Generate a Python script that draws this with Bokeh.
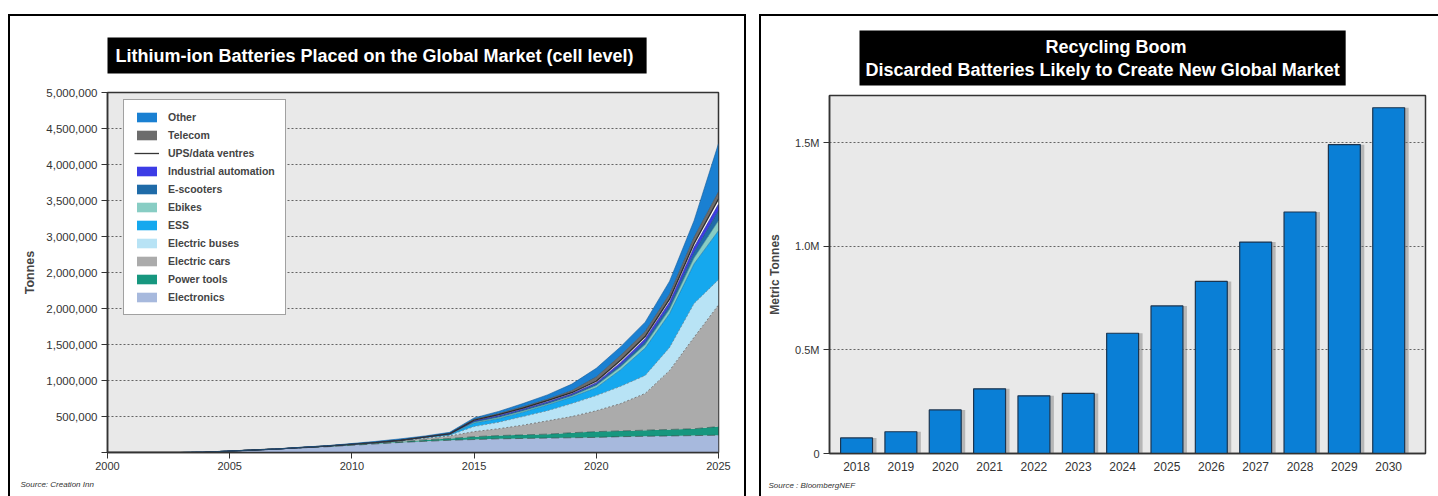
import numpy as np
from bokeh.plotting import figure
from bokeh.layouts import row, column
from bokeh.models import (ColumnDataSource, Legend, LegendItem, Title, Spacer,
                          FixedTicker, Range1d)
from bokeh.transform import dodge
from bokeh.embed import file_html
from bokeh.resources import INLINE

FONT = "Liberation Sans"

# ---------------- Left chart data (thousand tonnes, per segment) ----------------
years = list(range(2000, 2026))
electronics    = [0,0,0,0,5,20,35,50,65,80,100,120,140,155,170,180,190,195,200,205,210,220,225,230,235,240]
power_tools    = [0,0,0,0,0,0,0,0,5,8,10,10,10,20,25,40,45,50,55,70,80,80,85,90,95,120]
electric_cars  = [0,0,0,0,0,0,0,0,0,2,5,10,15,25,35,70,95,135,185,225,290,380,510,820,1270,1690]
electric_buses = [0,0,0,0,0,0,0,0,0,0,0,0,5,5,10,70,90,120,140,180,210,240,250,320,470,350]
ess            = [0,0,0,0,0,0,0,0,0,0,0,0,0,5,5,50,50,60,80,90,110,230,380,470,550,680]
ebikes         = [0,0,0,0,0,0,0,0,0,0,0,0,0,2,5,10,15,15,15,15,30,40,50,60,80,140]
e_scooters     = [0,0,0,0,0,0,0,0,0,0,0,0,0,2,5,10,15,15,15,15,20,30,40,50,80,140]
industrial     = [0,0,0,0,0,0,0,0,0,0,0,0,0,2,5,10,15,15,15,15,20,30,40,50,70,90]
ups_data       = [0,0,0,0,0,0,0,0,0,0,0,0,0,2,2,10,10,10,15,15,20,30,30,40,50,70]
telecom        = [0,0,0,0,0,0,0,0,0,0,0,0,0,2,3,10,15,20,20,30,60,70,70,70,90,100]
other          = [0,0,0,0,0,0,0,0,5,5,10,15,20,10,15,20,30,45,60,90,120,120,130,180,230,670]

series_names = ["Electronics", "Power tools", "Electric cars", "Electric buses", "ESS",
                "Ebikes", "E-scooters", "Industrial automation", "UPS/data ventres",
                "Telecom", "Other"]
series_vals = [electronics, power_tools, electric_cars, electric_buses, ess, ebikes,
               e_scooters, industrial, ups_data, telecom, other]
series_colors = ["#a7b9dd", "#17977f", "#ababab", "#b8e3f5", "#15a8ee", "#88cdc4",
                 "#1f6ba8", "#3c3ce6", "#ffffff", "#6c6c6c", "#1a80d2"]
line_colors = ["#2f3f3a", "#1d4f46", "#666666", "#6a8a98", "#0d6fa8", "#4c9a90",
               "#18487a", "#2a2aa0", "#202020", "#444444", "#145c9a"]
line_dashes = ["8 4", "8 4", "2 2", "2 2", "solid", "solid", "solid", "solid", "solid",
               "solid", "solid"]
line_alphas = [0.6, 0.6, 0.8, 0.8, 0.6, 0.6, 0.6, 0.7, 0.9, 0.6, 0.6]

left_title = "Lithium-ion Batteries  Placed on the Global Market (cell level)"
left_y_ticks = [0, 500000, 1000000, 1500000, 2000000, 2500000, 3000000, 3500000,
                4000000, 4500000, 5000000]
left_y_labels = ["", "500,000", "1,000,000", "1,500,000", "2,000,000", "2,000,000",
                 "3,000,000", "3,500,000", "4,000,000", "4,500,000", "5,000,000"]
left_x_ticks = [2000, 2005, 2010, 2015, 2020, 2025]

# ---------------- Right chart data ----------------
right_title_1 = "Recycling Boom"
right_title_2 = "Discarded Batteries Likely to Create New Global Market"
rec_years = [2018, 2019, 2020, 2021, 2022, 2023, 2024, 2025, 2026, 2027, 2028, 2029, 2030]
rec_tonnes = [75000, 105000, 210000, 312000, 278000, 290000, 580000, 712000, 830000,
              1020000, 1165000, 1490000, 1668000]
right_y_ticks = [0, 500000, 1000000, 1500000]
right_y_labels = ["0", "0.5M", "1.0M", "1.5M"]

BLACK = {"background-color": "black"}

# ================= LEFT FIGURE =================
data = {"year": years}
keys = []
for i, v in enumerate(series_vals):
    k = "s%d" % i
    keys.append(k)
    data[k] = [a * 1000 for a in v]
src = ColumnDataSource(data)

pl = figure(width=734, height=480, output_backend="svg", toolbar_location=None,
            x_range=Range1d(2000, 2025), y_range=Range1d(0, 5000000),
            min_border_left=97, min_border_right=26, min_border_top=76, min_border_bottom=44,
            background_fill_color="#e9e9e9", border_fill_color="white",
            outline_line_color="#333333", outline_line_width=1.5)

areas = pl.varea_stack(keys, x="year", color=series_colors, source=src)
lines = pl.vline_stack(keys, x="year", line_color=line_colors, line_width=1,
                       line_dash=line_dashes, line_alpha=line_alphas, source=src)
lines[8].glyph.line_width = 1.3

pl.xgrid.visible = False
pl.ygrid.grid_line_color = "#555555"
pl.ygrid.grid_line_dash = "2 2"
pl.ygrid.grid_line_alpha = 0.9
pl.ygrid.ticker = FixedTicker(ticks=left_y_ticks[1:])

pl.yaxis.ticker = FixedTicker(ticks=left_y_ticks)
pl.yaxis.major_label_overrides = {t: l for t, l in zip(left_y_ticks, left_y_labels)}
pl.xaxis.ticker = FixedTicker(ticks=left_x_ticks)
pl.xaxis.major_label_overrides = {t: str(t) for t in left_x_ticks}
for ax in (pl.xaxis, pl.yaxis):
    ax.minor_tick_line_color = None
    ax.major_tick_in = 0
    ax.major_tick_out = 6
    ax.axis_line_color = "#333333"
    ax.axis_line_width = 1.5
    ax.major_tick_line_color = "#333333"
    ax.major_label_text_font = FONT
    ax.major_label_text_color = "#333333"
pl.yaxis.major_label_text_font_size = "11.5px"
pl.yaxis.major_label_standoff = 4
pl.xaxis.major_label_text_font_size = "11px"
pl.xaxis.major_label_standoff = 3
pl.yaxis.axis_label = "Tonnes"
pl.yaxis.axis_label_text_font = FONT
pl.yaxis.axis_label_text_font_style = "bold"
pl.yaxis.axis_label_text_font_size = "12.5px"
pl.yaxis.axis_label_standoff = 6

items = []
for i in reversed(range(len(series_names))):
    rends = [areas[i]]
    if series_names[i] == "UPS/data ventres":
        rends = [areas[i], lines[i]]
    items.append(LegendItem(label=series_names[i], renderers=rends))
leg = Legend(items=items, location=(16, 137), orientation="vertical",
             background_fill_color="white", background_fill_alpha=1,
             border_line_color="#444444", border_line_width=1,
             label_text_font=FONT, label_text_font_style="bold",
             label_text_font_size="10.5px", label_height=14, glyph_height=12,
             glyph_width=25, spacing=4, padding=10, label_standoff=9, margin=0)
pl.add_layout(leg, "center")

pl.add_layout(Title(text=left_title, align="left", offset=0, standoff=38, padding=8,
                    background_fill_color="black", text_color="white",
                    text_font=FONT, text_font_style="bold", text_font_size="18px"), "above")
pl.add_layout(Title(text="Source:  Creation Inn", align="left", offset=-87, standoff=11,
                    text_color="#333333", text_font=FONT, text_font_style="italic",
                    text_font_size="8px"), "below")

# ================= RIGHT FIGURE =================
rsrc = ColumnDataSource({"year": rec_years, "tonnes": rec_tonnes})
pr = figure(width=677, height=480, output_backend="svg", toolbar_location=None,
            x_range=Range1d(2017.39, 2030.83), y_range=Range1d(0, 1727000),
            min_border_left=68, min_border_right=13, min_border_top=79, min_border_bottom=43,
            background_fill_color="#e9e9e9", border_fill_color="white",
            outline_line_color="#333333", outline_line_width=1.5)
pr.vbar(x=dodge("year", 0.09), top="tonnes", width=0.72, source=rsrc,
        fill_color="#777777", fill_alpha=0.45, line_alpha=0)
pr.vbar(x="year", top="tonnes", width=0.72, source=rsrc,
        fill_color="#0a7fd6", line_color="#1b3550", line_width=1.2)

pr.xgrid.visible = False
pr.ygrid.grid_line_color = "#555555"
pr.ygrid.grid_line_dash = "2 2"
pr.ygrid.grid_line_alpha = 0.9
pr.ygrid.ticker = FixedTicker(ticks=right_y_ticks[1:])
pr.yaxis.ticker = FixedTicker(ticks=right_y_ticks)
pr.yaxis.major_label_overrides = {t: l for t, l in zip(right_y_ticks, right_y_labels)}
pr.xaxis.ticker = FixedTicker(ticks=rec_years)
pr.xaxis.major_label_overrides = {t: str(t) for t in rec_years}
for ax in (pr.xaxis, pr.yaxis):
    ax.minor_tick_line_color = None
    ax.major_tick_in = 0
    ax.axis_line_color = "#333333"
    ax.axis_line_width = 1.5
    ax.major_tick_line_color = "#333333"
    ax.major_label_text_font = FONT
    ax.major_label_text_color = "#333333"
pr.yaxis.major_tick_out = 6
pr.yaxis.major_label_standoff = 4
pr.xaxis.major_tick_out = 0
pr.xaxis.major_label_standoff = 8
pr.yaxis.major_label_text_font_size = "11px"
pr.xaxis.major_label_text_font_size = "12px"
pr.yaxis.axis_label = "Metric Tonnes"
pr.yaxis.axis_label_text_font = FONT
pr.yaxis.axis_label_text_font_style = "bold"
pr.yaxis.axis_label_text_font_size = "12px"
pr.yaxis.axis_label_standoff = 10

# first line centred over the second one with non-breaking spaces
pr.add_layout(Title(text="\u00a0" * 36 + right_title_1 + "\n" + right_title_2,
                    align="left", offset=30, standoff=20, padding=6,
                    text_line_height=1.15,
                    background_fill_color="black", text_color="white",
                    text_font=FONT, text_font_style="bold", text_font_size="18px"), "above")
pr.add_layout(Title(text="Source : BloombergNEF", align="left", offset=-61, standoff=11,
                    text_color="#333333", text_font=FONT, text_font_style="italic",
                    text_font_size="8px"), "below")

# ================= PAGE LAYOUT with panel frames =================
def vbar_line():
    return column(Spacer(width=2, height=14), Spacer(width=2, height=482, styles=BLACK))

left_panel = column(Spacer(width=734, height=14), Spacer(width=734, height=2, styles=BLACK), pl)
right_panel = column(Spacer(width=677, height=14), Spacer(width=677, height=2, styles=BLACK), pr)
layout = row(Spacer(width=8, height=496), vbar_line(), left_panel, vbar_line(),
             Spacer(width=13, height=496), vbar_line(), right_panel)
open("out.html", "w").write(file_html(layout, INLINE))
